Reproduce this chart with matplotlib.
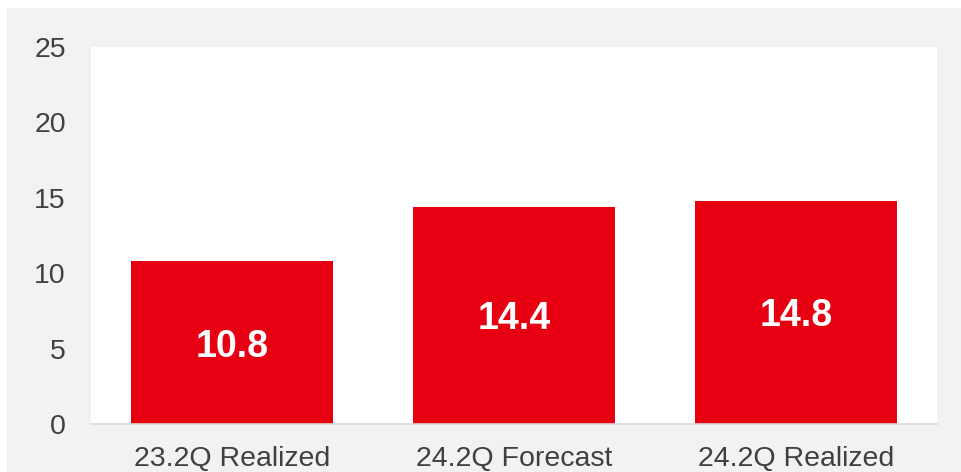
import matplotlib
matplotlib.use("Agg")
import matplotlib.pyplot as plt
from matplotlib.patches import Rectangle

categories = ["23.2Q Realized", "24.2Q Forecast", "24.2Q Realized"]
values = [10.8, 14.4, 14.8]
yticks = [0, 5, 10, 15, 20, 25]

W, H = 962, 472
fig = plt.figure(figsize=(W / 100, H / 100), dpi=100)
fig.patch.set_facecolor("white")
fig.patches.append(Rectangle((7 / W, 0), 1 - 7 / W, (H - 8) / H,
                             transform=fig.transFigure, facecolor="#f2f2f2",
                             edgecolor="none", zorder=-10))

ax = fig.add_axes([91 / W, (H - 424) / H, 846 / W, 377 / H])
ax.set_zorder(1)
ax.set_facecolor("white")
x = list(range(len(categories)))
bars = ax.bar(x, values, width=0.713, color="#e60012", zorder=2)
ax.set_xlim(-0.5, len(categories) - 0.5)
ax.set_ylim(0, 25)
ax.set_yticks(yticks)
ax.set_xticks(x)
ax.set_xticklabels(categories)
for s in ["top", "right", "left"]:
    ax.spines[s].set_visible(False)
ax.spines["bottom"].set_color("#d9d9d9")
ax.spines["bottom"].set_linewidth(1.2)
ax.tick_params(axis="both", length=0, labelcolor="#404040", labelsize=20.5)
ax.tick_params(axis="y", pad=18)
ax.tick_params(axis="x", pad=16)
for lab in ax.get_xticklabels() + ax.get_yticklabels():
    lab.set_family("Liberation Sans")

for b, v in zip(bars, values):
    ax.text(b.get_x() + b.get_width() / 2, v / 2, f"{v:.1f}", ha="center",
            va="center_baseline", color="white", fontsize=27, fontweight="bold",
            family="Liberation Sans", zorder=3)

fig.savefig("out.png", dpi=100)
